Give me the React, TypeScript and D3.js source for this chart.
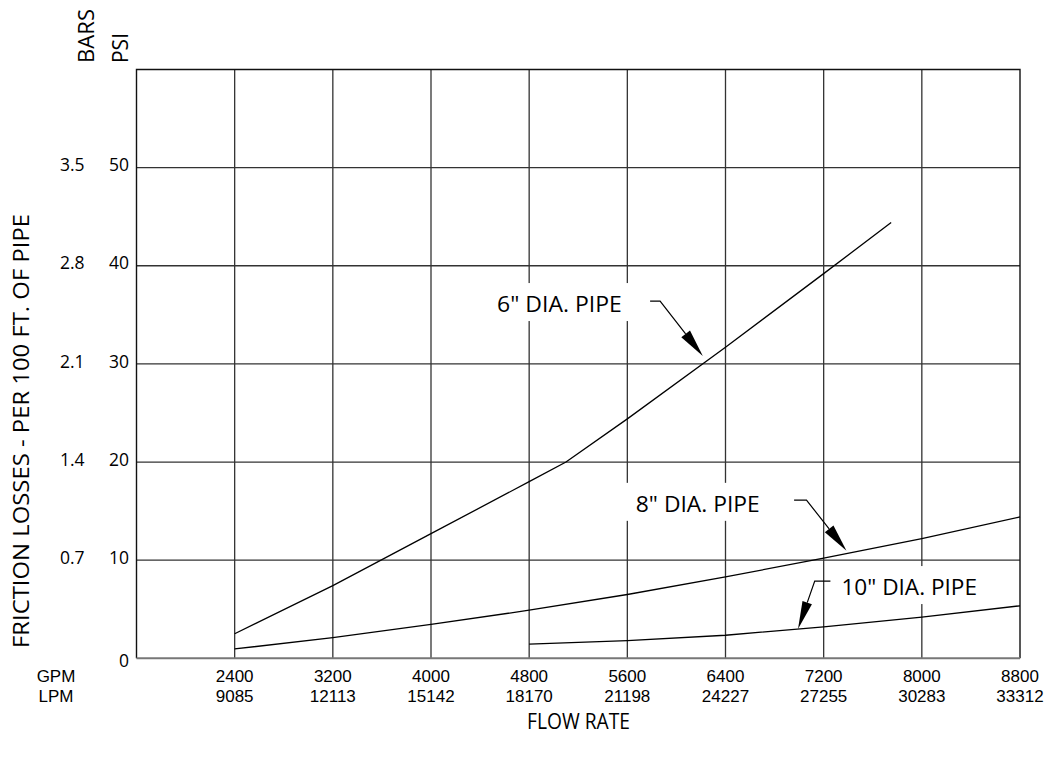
import { useEffect, useRef } from "react";
import * as d3 from "d3";

// Flow rate ticks (GPM with LPM equivalents underneath)
const gpmTicks = [2400, 3200, 4000, 4800, 5600, 6400, 7200, 8000, 8800];
const lpmTicks = [9085, 12113, 15142, 18170, 21198, 24227, 27255, 30283, 33312];

// Friction loss ticks (PSI with BARS equivalents)
const psiTicks = [0, 10, 20, 30, 40, 50];
const barTicks = ["", "0.7", "1.4", "2.1", "2.8", "3.5"];

// Curves: [gpm, psi per 100 ft]
const pipe6: [number, number][] = [
  [2400, 2.5],
  [3200, 7.4],
  [4000, 12.7],
  [4800, 18.0],
  [5100, 20.0],
  [5600, 24.4],
  [6400, 31.7],
  [7200, 39.2],
  [7750, 44.4],
];
const pipe8: [number, number][] = [
  [2400, 0.95],
  [3200, 2.1],
  [4000, 3.45],
  [4800, 4.9],
  [5600, 6.5],
  [6400, 8.3],
  [7200, 10.2],
  [8000, 12.2],
  [8800, 14.4],
];
const pipe10: [number, number][] = [
  [4800, 1.45],
  [5600, 1.8],
  [6400, 2.35],
  [7200, 3.2],
  [8000, 4.2],
  [8800, 5.35],
];

const pipeLabels = ['6" DIA. PIPE', '8" DIA. PIPE', '10" DIA. PIPE'];
// where each arrow touches its curve: [gpm, psi]
const arrowTips: [number, number][] = [
  [6215, 30.8],
  [7386, 10.95],
  [6991, 2.98],
];

// label layout, pixel offsets from the arrow tip
const labelLayout = [
  { tx: -205.7, ty: -44, tw: 124.7, sx: -52.7, sy: -55, bx: -42.7, by: -55, aw: 11 },
  { tx: -210.7, ty: -39, tw: 124, sx: -52.4, sy: -50.7, bx: -40, by: -50.7, aw: 11 },
  { tx: 43.4, ty: -34, tw: 135.6, sx: 32.4, sy: -48, bx: 16.7, by: -48, aw: 10 },
];

const W = 1050;
const H = 758;
const FONT = "'Open Sans', sans-serif";
const TICK_FONT = "'Liberation Sans', Arial, sans-serif";

export default function App() {
  const svgRef = useRef<SVGSVGElement>(null);

  useEffect(() => {
    document.body.style.margin = "0";
    if (!svgRef.current) return;
    const svg = d3.select(svgRef.current);
    svg.selectAll("*").remove();

    const left = 136.5;
    const right = 1020;
    const top = 69.5;
    const bottom = 658.3;

    const x = d3.scaleLinear().domain([1600, 8800]).range([left, right]);
    const y = d3.scaleLinear().domain([0, 60]).range([bottom, top]);

    svg.append("rect").attr("width", W).attr("height", H).attr("fill", "white");

    // grid
    const grid = svg.append("g").attr("stroke", "#333").attr("stroke-width", 1.3);
    grid
      .selectAll("line.v")
      .data(gpmTicks.slice(0, -1))
      .join("line")
      .attr("x1", (d) => x(d))
      .attr("x2", (d) => x(d))
      .attr("y1", top)
      .attr("y2", bottom);
    grid
      .selectAll("line.h")
      .data(psiTicks.slice(1))
      .join("line")
      .attr("x1", left)
      .attr("x2", right)
      .attr("y1", (d) => y(d))
      .attr("y2", (d) => y(d));

    // white boxes behind labels
    const boxes = svg.append("g");
    arrowTips.forEach((t, i) => {
      const L = labelLayout[i];
      const px = x(t[0]);
      const py = y(t[1]);
      boxes
        .append("rect")
        .attr("x", px + L.tx - 10)
        .attr("y", py + L.ty - 29)
        .attr("width", L.tw + 20)
        .attr("height", 38)
        .attr("fill", "white");
    });

    // frame
    svg
      .append("path")
      .attr("d", `M${left},${bottom}V${top}H${right}V${bottom}`)
      .attr("fill", "none")
      .attr("stroke", "#111")
      .attr("stroke-width", 1.4);
    svg
      .append("line")
      .attr("x1", left)
      .attr("x2", right)
      .attr("y1", bottom)
      .attr("y2", bottom)
      .attr("stroke", "#777")
      .attr("stroke-width", 2);

    // curves
    const line = d3
      .line<[number, number]>()
      .x((d) => x(d[0]))
      .y((d) => y(d[1]));
    svg
      .append("g")
      .selectAll("path")
      .data([pipe6, pipe8, pipe10])
      .join("path")
      .attr("d", (d) => line(d))
      .attr("fill", "none")
      .attr("stroke", "#000")
      .attr("stroke-width", 1.3);

    // labels + leader arrows
    const ann = svg.append("g");
    arrowTips.forEach((t, i) => {
      const L = labelLayout[i];
      const px = x(t[0]);
      const py = y(t[1]);
      const bx = px + L.bx;
      const by = py + L.by;
      const dx = px - bx;
      const dy = py - by;
      const len = Math.hypot(dx, dy);
      const ux = dx / len;
      const uy = dy / len;
      const headLen = 28;
      const baseX = px - ux * headLen;
      const baseY = py - uy * headLen;
      ann
        .append("path")
        .attr("d", `M${px + L.sx},${py + L.sy}L${bx},${by}L${baseX},${baseY}`)
        .attr("fill", "none")
        .attr("stroke", "#000")
        .attr("stroke-width", 1.2);
      const hw = L.aw / 2;
      ann
        .append("path")
        .attr(
          "d",
          `M${px},${py}L${baseX - uy * hw},${baseY + ux * hw}L${baseX + uy * hw},${baseY - ux * hw}Z`,
        )
        .attr("fill", "#000");
      ann
        .append("text")
        .attr("x", px + L.tx)
        .attr("y", py + L.ty)
        .attr("font-family", FONT)
        .attr("font-size", 22)
        .attr("textLength", L.tw)
        .attr("lengthAdjust", "spacingAndGlyphs")
        .attr("fill", "#000")
        .text(pipeLabels[i]);
    });

    const txt = svg
      .append("g")
      .attr("font-family", FONT)
      .attr("font-size", 17.5)
      .attr("fill", "#000");

    // y tick labels
    txt
      .selectAll("text.psi")
      .data(psiTicks)
      .join("text")
      .attr("x", 129)
      .attr("y", (d) => y(d) + (d === 0 ? 8.4 : 3.6))
      .attr("text-anchor", "end")
      .text((d) => d);
    const barG = svg
      .append("g")
      .attr("font-family", FONT)
      .attr("font-size", 17.5)
      .attr("fill", "#000");
    barG
      .selectAll("text")
      .data(barTicks)
      .join("text")
      .attr("x", 84.5)
      .attr("y", (_, i) => y(psiTicks[i]) + 3.6)
      .attr("text-anchor", "end")
      .text((d) => d);

    // x tick labels: GPM row over LPM row
    const xl = svg
      .append("g")
      .attr("font-family", TICK_FONT)
      .attr("font-size", 17)
      .attr("fill", "#000")
      .attr("text-anchor", "middle");
    xl.selectAll("text.gpm")
      .data(gpmTicks)
      .join("text")
      .attr("class", "gpm")
      .attr("x", (d) => x(d))
      .attr("y", 682)
      .text((d) => d);
    xl.selectAll("text.lpm")
      .data(lpmTicks)
      .join("text")
      .attr("class", "lpm")
      .attr("x", (_, i) => x(gpmTicks[i]))
      .attr("y", 702)
      .text((d) => d);
    xl.append("text").attr("x", 56).attr("y", 682).text("GPM");
    xl.append("text").attr("x", 56).attr("y", 702).text("LPM");

    // axis titles
    const titles = svg
      .append("g")
      .attr("font-family", FONT)
      .attr("font-size", 22)
      .attr("fill", "#000");
    titles
      .append("text")
      .attr("transform", "translate(29,431) rotate(-90)")
      .attr("text-anchor", "middle")
      .attr("textLength", 434)
      .attr("lengthAdjust", "spacingAndGlyphs")
      .text("FRICTION LOSSES - PER 100 FT. OF PIPE");
    titles
      .append("text")
      .attr("transform", "translate(94,63) rotate(-90)")
      .attr("textLength", 54)
      .attr("lengthAdjust", "spacingAndGlyphs")
      .text("BARS");
    titles
      .append("text")
      .attr("transform", "translate(128,63) rotate(-90)")
      .attr("textLength", 30)
      .attr("lengthAdjust", "spacingAndGlyphs")
      .text("PSI");
    titles
      .append("text")
      .attr("x", 578.5)
      .attr("y", 729)
      .attr("text-anchor", "middle")
      .attr("textLength", 103)
      .attr("lengthAdjust", "spacingAndGlyphs")
      .text("FLOW RATE");
  }, []);

  return <svg ref={svgRef} width={W} height={H} style={{ display: "block" }} />;
}
